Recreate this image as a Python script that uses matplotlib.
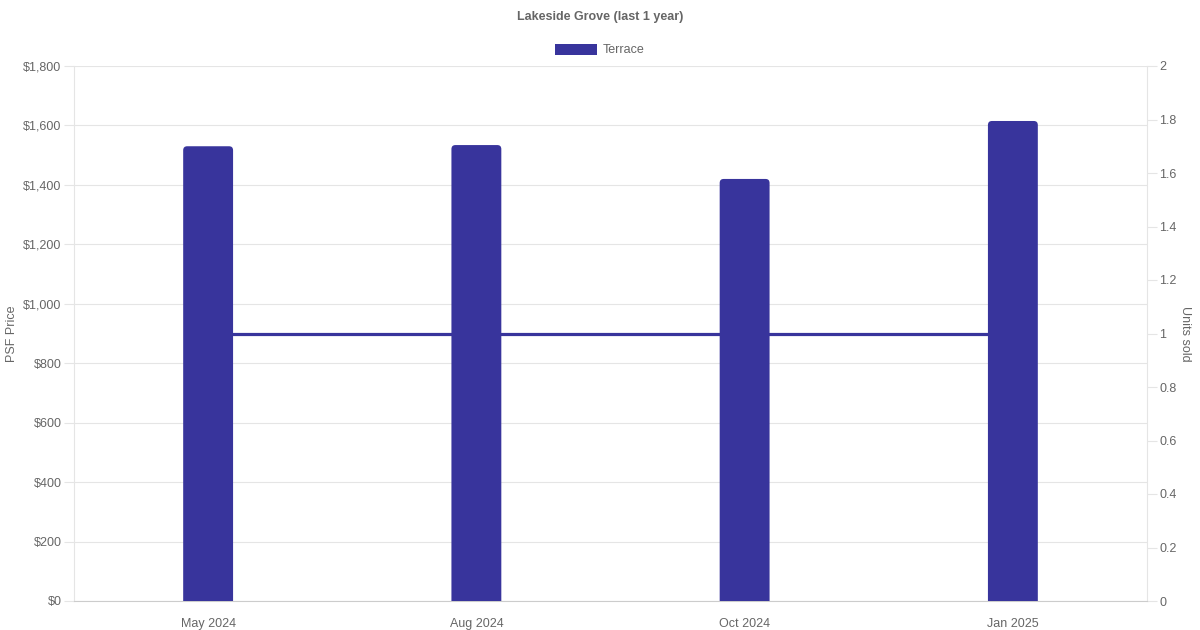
import matplotlib.pyplot as plt
from matplotlib.patches import Patch, FancyBboxPatch

plt.rcParams['font.family'] = ['Liberation Sans', 'DejaVu Sans']

months = ["May 2024", "Aug 2024", "Oct 2024", "Jan 2025"]
psf_price = [1530, 1534, 1420, 1615]
units_sold = [1, 1, 1, 1]

bar_color = "#38349c"
text_color = "#666666"
grid_color = "#e5e5e5"

fig = plt.figure(figsize=(12, 6.3), dpi=100)
ax = fig.add_axes([74 / 1200, 29 / 630, 1073 / 1200, 535 / 630])
ax2 = ax.twinx()

x = list(range(len(months)))

# line on the right axis, behind the bars
ax2.plot(x, units_sold, color=bar_color, linewidth=2.3, zorder=1)
ax2.set_ylim(0, 2)
ax2.set_yticks([0, 0.2, 0.4, 0.6, 0.8, 1, 1.2, 1.4, 1.6, 1.8, 2])
ax2.set_yticklabels(["0", "0.2", "0.4", "0.6", "0.8", "1", "1.2", "1.4", "1.6", "1.8", "2"])
ax2.set_ylabel("Units sold", color=text_color, fontsize=9, rotation=270, labelpad=10)

ax.set_zorder(ax2.get_zorder() + 1)
ax.patch.set_visible(False)
ax.set_xlim(-0.5, 3.5)
ax.set_ylim(0, 1800)

# bars with slightly rounded tops (radius in pixels converted to data units)
bar_w = 0.186
px_x = 4 / 1073    # 1 unit = 1073/4 px -> 4 px in x-data
radius = 4 * 4 / 1073
aspect = (1800 / 535) / (4 / 1073)
for xi, v in zip(x, psf_price):
    ax.add_patch(FancyBboxPatch((xi - bar_w / 2 + radius, -50), bar_w - 2 * radius, v + 50 - radius * aspect,
                                boxstyle=f"round,pad={radius},rounding_size={radius}",
                                mutation_aspect=aspect, facecolor=bar_color, edgecolor="none",
                                zorder=3, clip_on=True))

ax.set_yticks(range(0, 1801, 200))
ax.set_yticklabels(["$0" if v == 0 else f"${v:,}" for v in range(0, 1801, 200)])
ax.set_xticks(x)
ax.set_xticklabels(months)
ax.set_ylabel("PSF Price", color=text_color, fontsize=9, labelpad=4)
ax.grid(axis="y", color=grid_color, linewidth=0.8, zorder=0)
ax.set_axisbelow(True)

for a in (ax, ax2):
    for s in a.spines.values():
        s.set_visible(False)
    a.tick_params(colors=grid_color, labelcolor=text_color, labelsize=9, length=7, width=0.8, pad=2)
ax.spines["bottom"].set_visible(True)
ax.spines["bottom"].set_color("#cccccc")
ax.spines["left"].set_visible(True)
ax.spines["left"].set_color(grid_color)
ax2.spines["right"].set_visible(True)
ax2.spines["right"].set_color(grid_color)
ax.tick_params(axis="x", length=0, pad=12)

fig.text(0.5, 1 - 17 / 630, "Lakeside Grove (last 1 year)", ha="center", va="center",
         fontsize=9, fontweight="bold", color=text_color)
fig.legend(handles=[Patch(facecolor=bar_color, label="Terrace")], loc="center",
           bbox_to_anchor=(0.5, 1 - 50 / 630), frameon=False, fontsize=9,
           labelcolor=text_color, handlelength=3.3, handleheight=1.0, handletextpad=0.5)

fig.savefig("out.png", dpi=100)
